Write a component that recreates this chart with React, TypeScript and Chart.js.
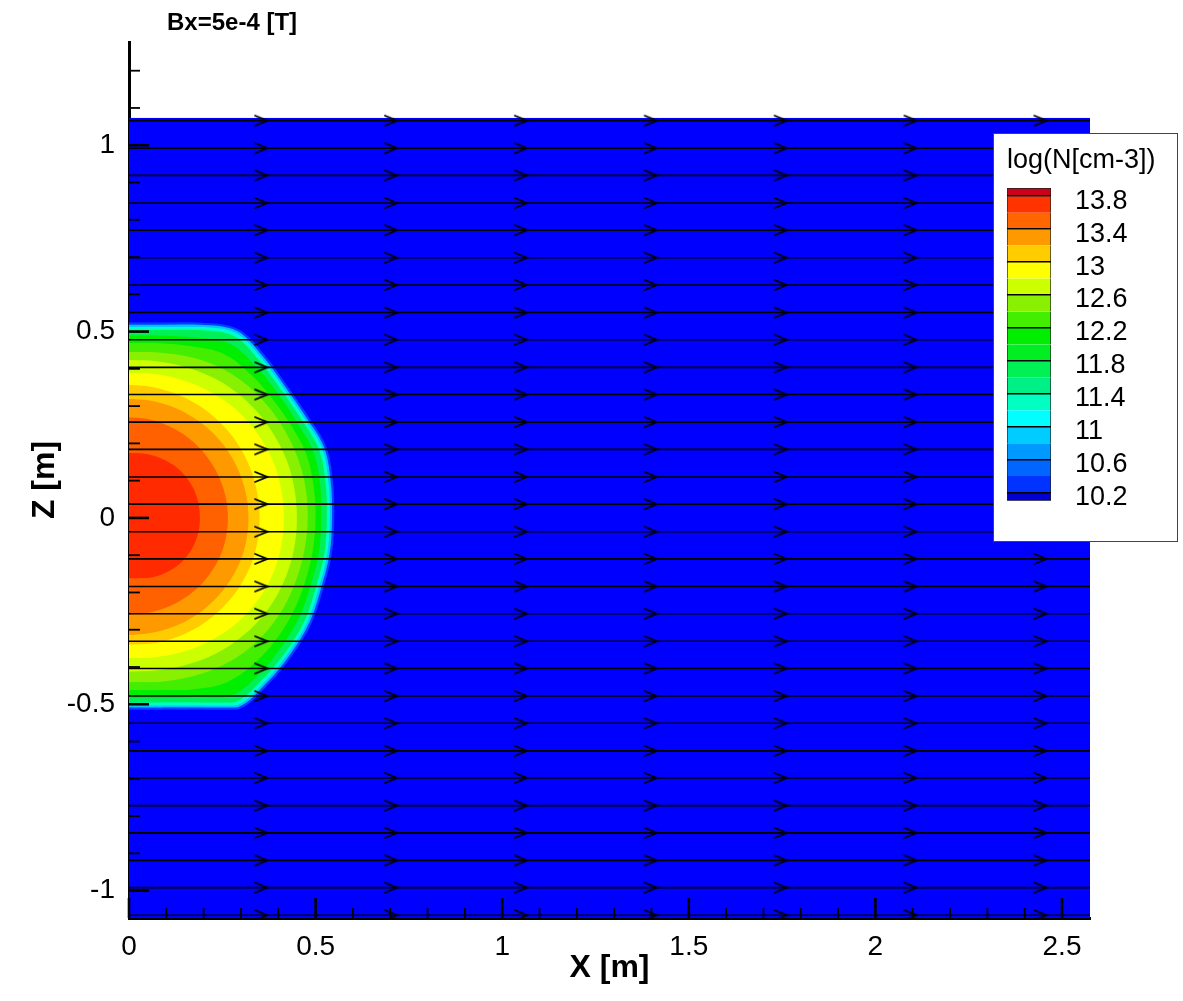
import React, { useEffect, useRef } from "react";
import { Chart, registerables } from "chart.js";

Chart.register(...registerables);

const FONT_FAMILY = "'Liberation Sans', Arial, Helvetica, sans-serif";

const PLOT_TITLE = "Bx=5e-4 [T]";
const X_TITLE = "X [m]";
const Z_TITLE = "Z [m]";
const LEGEND_TITLE = "log(N[cm-3])";

const X_MIN = 0;
const X_MAX = 2.575;
const Z_MIN = -1.0735;
const Z_MAX = 1.277;
const DOMAIN_Z_TOP = 1.0735;
const DOMAIN_Z_BOTTOM = -1.0735;

const X_LABELS = [0, 0.5, 1, 1.5, 2, 2.5];
const Z_LABELS = [-1, -0.5, 0, 0.5, 1];

// streamline heights (Z) and arrow positions (X)
const STREAM_Z = [
  1.066, 0.992, 0.919, 0.845, 0.772, 0.698, 0.625, 0.551, 0.478, 0.404, 0.331, 0.257, 0.184, 0.11, 0.037,
  -0.037, -0.11, -0.184, -0.257, -0.331, -0.404, -0.478, -0.551, -0.625, -0.698, -0.772, -0.845, -0.919, -0.992, -1.066,
];
const ARROW_X = [0.354, 0.702, 1.05, 1.398, 1.746, 2.094, 2.442];

// contour boundaries: radius (m) from (0,0) at each polar angle (deg)
const ANGLES = [90, 80, 70, 60, 50, 40, 30, 20, 10, 0, -10, -20, -30, -40, -50, -60, -70, -80, -90];
const LEVELS = [10.2, 10.8, 11.2, 11.6, 12.0, 12.2, 12.4, 12.6, 12.8, 13.0, 13.2, 13.4, 13.6];
const LEVEL_COLORS = [
  "#0040ff", "#00c4ff", "#00ffc8", "#00f055", "#00ee00", "#44ee00", "#88f000",
  "#ccff00", "#ffff00", "#ffcc00", "#ff9900", "#ff6000", "#ff2a00",
];
const R_102 = [0.525, 0.533, 0.558, 0.585, 0.568, 0.553, 0.552, 0.562, 0.555, 0.55, 0.552, 0.554, 0.565, 0.572, 0.582, 0.592, 0.548, 0.523, 0.515];
const R_108 = [0.519, 0.527, 0.552, 0.579, 0.562, 0.547, 0.546, 0.556, 0.549, 0.544, 0.546, 0.548, 0.559, 0.566, 0.576, 0.586, 0.542, 0.517, 0.509];
const R_112 = [0.513, 0.521, 0.546, 0.573, 0.556, 0.541, 0.54, 0.55, 0.543, 0.538, 0.54, 0.542, 0.553, 0.56, 0.57, 0.58, 0.536, 0.511, 0.503];
const R_116 = [0.505, 0.513, 0.537, 0.563, 0.547, 0.533, 0.532, 0.541, 0.535, 0.53, 0.532, 0.534, 0.545, 0.552, 0.561, 0.57, 0.528, 0.503, 0.495];
const R_120 = [0.49, 0.497, 0.515, 0.54, 0.53, 0.52, 0.518, 0.525, 0.52, 0.515, 0.517, 0.519, 0.528, 0.535, 0.545, 0.55, 0.512, 0.492, 0.484];
const R_122 = [0.47, 0.476, 0.49, 0.508, 0.505, 0.5, 0.5, 0.505, 0.502, 0.5, 0.5, 0.502, 0.507, 0.512, 0.515, 0.512, 0.49, 0.472, 0.462];
const R_124 = [0.446, 0.451, 0.461, 0.471, 0.476, 0.478, 0.479, 0.48, 0.48, 0.479, 0.478, 0.478, 0.479, 0.478, 0.474, 0.466, 0.456, 0.447, 0.441];
const R_126 = [0.424, 0.427, 0.432, 0.438, 0.443, 0.446, 0.448, 0.45, 0.45, 0.45, 0.45, 0.449, 0.447, 0.443, 0.437, 0.43, 0.422, 0.416, 0.413];
const R_128 = [0.39, 0.392, 0.396, 0.401, 0.406, 0.41, 0.413, 0.415, 0.415, 0.415, 0.415, 0.414, 0.411, 0.406, 0.4, 0.393, 0.386, 0.38, 0.376];
const R_130 = [0.357, 0.357, 0.356, 0.355, 0.354, 0.353, 0.352, 0.351, 0.35, 0.35, 0.35, 0.35, 0.349, 0.348, 0.347, 0.346, 0.344, 0.342, 0.34];
const R_132 = [0.32, 0.32, 0.32, 0.32, 0.32, 0.32, 0.32, 0.32, 0.32, 0.32, 0.32, 0.32, 0.319, 0.318, 0.317, 0.316, 0.315, 0.314, 0.314];
const R_134 = [0.27, 0.27, 0.269, 0.268, 0.267, 0.266, 0.265, 0.265, 0.265, 0.265, 0.265, 0.265, 0.264, 0.263, 0.262, 0.261, 0.26, 0.26, 0.26];
const R_136 = [0.174, 0.176, 0.179, 0.182, 0.185, 0.187, 0.189, 0.19, 0.19, 0.19, 0.19, 0.189, 0.187, 0.184, 0.18, 0.175, 0.17, 0.165, 0.162];
const RADII = [R_102, R_108, R_112, R_116, R_120, R_122, R_124, R_126, R_128, R_130, R_132, R_134, R_136];
const BACKGROUND_COLOR = "#0000ff";

// colour bar bands
const CB_LOWER = [10.1, 10.2, 10.4, 10.6, 10.8, 11.0, 11.2, 11.4, 11.6, 11.8, 12.0, 12.2, 12.4, 12.6, 12.8, 13.0, 13.2, 13.4, 13.6, 13.8];
const CB_UPPER = [10.2, 10.4, 10.6, 10.8, 11.0, 11.2, 11.4, 11.6, 11.8, 12.0, 12.2, 12.4, 12.6, 12.8, 13.0, 13.2, 13.4, 13.6, 13.8, 13.9];
const CB_COLORS = [
  "#0000d2", "#0033ff", "#0066ff", "#0099ff", "#00ccff", "#00ffff", "#00ffc0", "#00f088", "#00f055", "#00ee22",
  "#00ee00", "#44ee00", "#88f000", "#ccff00", "#ffff00", "#ffcc00", "#ff9900", "#ff6600", "#ff3300", "#cc0018",
];
const CB_TICKS = [10.2, 10.6, 11, 11.4, 11.8, 12.2, 12.6, 13, 13.4, 13.8];

function makeArrow(): HTMLCanvasElement {
  const c = document.createElement("canvas");
  c.width = 16;
  c.height = 14;
  const g = c.getContext("2d")!;
  g.strokeStyle = "#000";
  g.lineWidth = 1.8;
  g.lineCap = "round";
  g.lineJoin = "miter";
  g.beginPath();
  g.moveTo(2, 2);
  g.lineTo(14, 7);
  g.lineTo(2, 12);
  g.stroke();
  return c;
}

const isOn = (list: number[], v: number) => list.some((t) => Math.abs(t - v) < 1e-6);

const inwardTicks = {
  id: "inwardTicks",
  afterDatasetsDraw(chart: any) {
    const { ctx, chartArea, scales } = chart;
    const xs = scales.x;
    const ys = scales.y;
    ctx.save();
    ctx.strokeStyle = "#000";
    xs.ticks.forEach((t: any) => {
      const major = isOn(X_LABELS, t.value);
      const px = xs.getPixelForValue(t.value);
      ctx.lineWidth = major ? 2.6 : 1.8;
      ctx.beginPath();
      ctx.moveTo(px, chartArea.bottom);
      ctx.lineTo(px, chartArea.bottom - (major ? 20 : 10));
      ctx.stroke();
    });
    ys.ticks.forEach((t: any) => {
      const major = isOn(Z_LABELS, t.value);
      const py = ys.getPixelForValue(t.value);
      ctx.lineWidth = major ? 2.6 : 1.8;
      ctx.beginPath();
      ctx.moveTo(chartArea.left, py);
      ctx.lineTo(chartArea.left + (major ? 20 : 11), py);
      ctx.stroke();
    });
    ctx.restore();
  },
};

const plotTitle = {
  id: "plotTitle",
  afterDraw(chart: any) {
    const { ctx, chartArea } = chart;
    ctx.save();
    ctx.fillStyle = "#000";
    ctx.font = `bold 24px ${FONT_FAMILY}`;
    ctx.textBaseline = "middle";
    ctx.textAlign = "left";
    ctx.fillText(PLOT_TITLE, chartArea.left + 38, 23);
    ctx.restore();
  },
};

const fmt = (v: number) => String(Number(Number(v).toFixed(1)));

export default function App() {
  const mainRef = useRef<HTMLCanvasElement>(null);
  const cbRef = useRef<HTMLCanvasElement>(null);

  useEffect(() => {
    const arrow = makeArrow();

    const background = {
      label: "domain",
      data: [
        { x: X_MAX, y: DOMAIN_Z_TOP },
        { x: X_MAX, y: DOMAIN_Z_BOTTOM },
      ],
      borderWidth: 0,
      pointRadius: 0,
      fill: "origin",
      backgroundColor: BACKGROUND_COLOR,
      order: 100,
    };

    const contours = LEVELS.map((lvl, i) => ({
      label: `log N > ${lvl}`,
      data: ANGLES.map((a, k) => {
        const t = (a * Math.PI) / 180;
        return { x: RADII[i][k] * Math.cos(t), y: RADII[i][k] * Math.sin(t) };
      }),
      borderWidth: 0,
      pointRadius: 0,
      fill: "origin",
      backgroundColor: LEVEL_COLORS[i],
      tension: 0.35,
      order: 60 - i,
    }));

    const streams = STREAM_Z.map((z) => ({
      label: `stream ${z}`,
      data: [
        { x: X_MIN, y: z },
        { x: X_MAX, y: z },
      ],
      borderColor: "#000",
      borderWidth: 1.6,
      pointRadius: 0,
      fill: false,
      order: 5,
    }));

    const arrows = {
      label: "arrows",
      data: STREAM_Z.flatMap((z) => ARROW_X.map((x) => ({ x, y: z }))),
      showLine: false,
      pointStyle: arrow,
      pointRadius: 5,
      fill: false,
      order: 1,
    };

    const main = new Chart(mainRef.current!, {
      type: "line",
      data: { datasets: [background, ...contours, ...streams, arrows] as any },
      plugins: [inwardTicks, plotTitle],
      options: {
        responsive: false,
        animation: false,
        indexAxis: "y",
        events: [],
        layout: { padding: { top: 42, right: 93, left: 0, bottom: 0 } },
        plugins: { legend: { display: false }, tooltip: { enabled: false }, title: { display: false } },
        scales: {
          x: {
            type: "linear",
            min: X_MIN,
            max: X_MAX,
            afterFit: (s: any) => {
              s.height = 83;
            },
            ticks: {
              stepSize: 0.1,
              includeBounds: false,
              autoSkip: false,
              maxRotation: 0,
              padding: 12,
              color: "#000",
              font: { family: FONT_FAMILY, size: 28 },
              callback: (v: any) => (isOn(X_LABELS, Number(v)) ? fmt(Number(v)) : ""),
            },
            grid: { display: false, drawTicks: false },
            border: { display: true, color: "#000", width: 3 },
            title: {
              display: true,
              text: X_TITLE,
              color: "#000",
              font: { family: FONT_FAMILY, size: 32, weight: "bold" },
              padding: { top: 0, bottom: 14 },
            },
          },
          y: {
            type: "linear",
            min: Z_MIN,
            max: Z_MAX,
            afterFit: (s: any) => {
              s.width = 129;
            },
            ticks: {
              stepSize: 0.1,
              includeBounds: false,
              autoSkip: false,
              padding: 14,
              color: "#000",
              font: { family: FONT_FAMILY, size: 28 },
              callback: (v: any) => (isOn(Z_LABELS, Number(v)) ? fmt(Number(v)) : ""),
            },
            grid: { display: false, drawTicks: false },
            border: { display: true, color: "#000", width: 3 },
            title: {
              display: true,
              text: Z_TITLE,
              color: "#000",
              font: { family: FONT_FAMILY, size: 32, weight: "bold" },
              padding: { top: 26, bottom: 0 },
            },
          },
        },
      } as any,
    });

    const cb = new Chart(cbRef.current!, {
      type: "bar",
      data: {
        labels: [""],
        datasets: CB_LOWER.map((lo, i) => ({
          label: `${lo}-${CB_UPPER[i]}`,
          data: [[lo, CB_UPPER[i]]],
          backgroundColor: CB_COLORS[i],
          borderColor: "#222",
          borderWidth: {
            left: 1,
            right: 1,
            top: i === CB_LOWER.length - 1 ? 1 : 0,
            bottom: i === 0 ? 1 : 0,
          },
          borderSkipped: false,
          barPercentage: 1,
          categoryPercentage: 1,
        })) as any,
      },
      options: {
        responsive: false,
        animation: false,
        events: [],
        layout: { padding: { left: 13, right: 0, top: 0, bottom: 29 } },
        plugins: {
          legend: { display: false },
          tooltip: { enabled: false },
          title: {
            display: true,
            text: LEGEND_TITLE,
            align: "start",
            color: "#000",
            font: { family: FONT_FAMILY, size: 27, weight: "normal" },
            padding: { top: 10.5, bottom: 11.1 },
          },
        },
        scales: {
          x: { display: false, stacked: true },
          y: {
            position: "right",
            min: 10.1,
            max: 13.9,
            afterBuildTicks: (s: any) => {
              s.ticks = CB_TICKS.map((v) => ({ value: v }));
            },
            afterFit: (s: any) => {
              s.width = 126;
            },
            ticks: {
              padding: 24,
              labelOffset: 5,
              color: "#000",
              font: { family: FONT_FAMILY, size: 27 },
              callback: (v: any) => fmt(Number(v)),
            },
            grid: { color: "#000", lineWidth: 1.5, drawTicks: false, z: 1 },
            border: { display: false },
          },
        },
      } as any,
    });

    return () => {
      main.destroy();
      cb.destroy();
    };
  }, []);

  return (
    <div style={{ position: "absolute", left: 0, top: 0, width: 1183, height: 1001, background: "#fff" }}>
      <canvas ref={mainRef} width={1183} height={1001} style={{ position: "absolute", left: 0, top: 0 }} />
      <div
        style={{
          position: "absolute",
          left: 993,
          top: 133,
          width: 185,
          height: 409,
          boxSizing: "border-box",
          border: "1px solid #444",
          background: "#fff",
        }}
      >
        <canvas ref={cbRef} width={183} height={407} style={{ position: "absolute", left: 0, top: 0 }} />
      </div>
    </div>
  );
}
